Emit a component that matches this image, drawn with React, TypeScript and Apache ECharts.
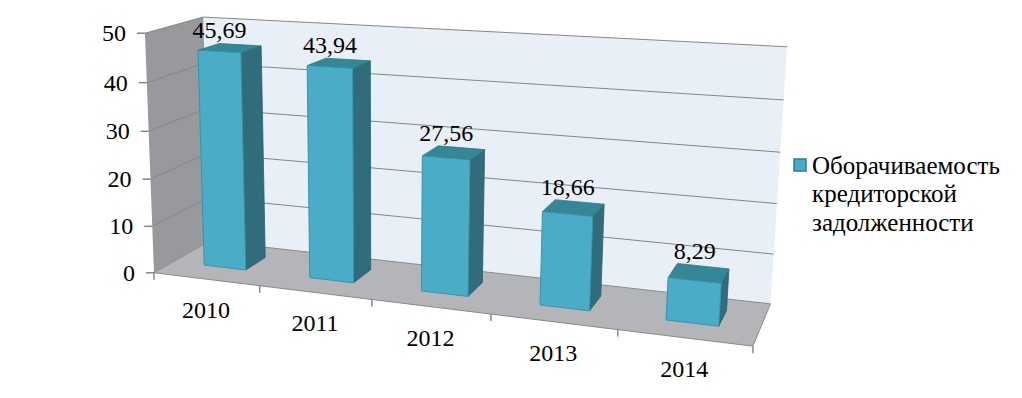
import React, { useEffect, useRef } from 'react';
import * as echarts from 'echarts';

// ---------- data ----------
const categories = ['2010', '2011', '2012', '2013', '2014'];
const values = [45.69, 43.94, 27.56, 18.66, 8.29];
const yTicks = [0, 10, 20, 30, 40, 50];
const seriesName = 'Оборачиваемость кредиторской задолженности';
const legendLines = ['Оборачиваемость', 'кредиторской', 'задолженности'];

// ---------- layout: perspective anchors (X: category units, Y: fraction of axis, Z: depth) -> screen ----------
const anchors: number[][] = [
  [0, 0, 0, 157, 270], [5, 0, 0, 753, 346], [0, 1, 0, 142, 34], [0, 0, 1, 205, 244],
  [0, 1, 1, 207, 18], [5, 0, 1, 771, 301], [5, 1, 1, 787, 48],
  [1, 0, 0, 261, 287], [2, 0, 0, 373, 301], [3, 0, 0, 490, 316], [4, 0, 0, 616, 333],
  [0, 0.2, 0, 154, 224], [0, 0.4, 0, 151, 178], [0, 0.6, 0, 148, 130], [0, 0.8, 0, 145, 82],
  [5, 0.2, 1, 774, 252], [5, 0.4, 1, 777, 203], [5, 0.6, 1, 780, 152], [5, 0.8, 1, 784, 100],
];
const NCAT = 5;
const BAR_HALF = 0.2;
const Z_FRONT = 0.34;
const Z_BACK = 0.72;
const FONT_FAMILY = 'Liberation Serif';
const font = (size: number) => `${size}px "Liberation Serif", "Times New Roman", serif`;

function solve(A: number[][], b: number[]): number[] {
  const n = b.length;
  const M = A.map((r, i) => [...r, b[i]]);
  for (let c = 0; c < n; c++) {
    let p = c;
    for (let r = c + 1; r < n; r++) if (Math.abs(M[r][c]) > Math.abs(M[p][c])) p = r;
    const tmp = M[c]; M[c] = M[p]; M[p] = tmp;
    for (let r = 0; r < n; r++) {
      if (r === c) continue;
      const f = M[r][c] / M[c][c];
      for (let k = c; k <= n; k++) M[r][k] -= f * M[c][k];
    }
  }
  return M.map((r, i) => r[n] / r[i]);
}

const S = 1000;
const PROJ: number[] = (() => {
  const rows: number[][] = [];
  const rhs: number[] = [];
  for (const [X, Y, Z, u0, v0] of anchors) {
    const u = u0 / S, v = v0 / S;
    rows.push([X, Y, Z, 1, 0, 0, 0, 0, -u * X, -u * Y, -u * Z]); rhs.push(u);
    rows.push([0, 0, 0, 0, X, Y, Z, 1, -v * X, -v * Y, -v * Z]); rhs.push(v);
  }
  const n = 11;
  const AtA: number[][] = Array.from({ length: n }, () => new Array(n).fill(0));
  const Atb: number[] = new Array(n).fill(0);
  rows.forEach((r, k) => {
    for (let i = 0; i < n; i++) {
      Atb[i] += r[i] * rhs[k];
      for (let j = 0; j < n; j++) AtA[i][j] += r[i] * r[j];
    }
  });
  return solve(AtA, Atb);
})();

function project(X: number, Y: number, Z: number): number[] {
  const p = PROJ;
  const w = p[8] * X + p[9] * Y + p[10] * Z + 1;
  return [((p[0] * X + p[1] * Y + p[2] * Z + p[3]) / w) * S, ((p[4] * X + p[5] * Y + p[6] * Z + p[7]) / w) * S];
}

function norm(params: any, api: any, cat: number, val: number) {
  const cs = params.coordSys;
  const pt = api.coord([cat, val]);
  const band = api.size([1, 0])[0];
  return { xc: (pt[0] - cs.x) / band, yn: (cs.y + cs.height - pt[1]) / cs.height };
}

function txt(x: number, y: number, text: string, size: number, align: string) {
  return {
    type: 'text', x, y,
    style: { text, font: font(size), fontSize: size, fontFamily: FONT_FAMILY, fill: '#000', align, verticalAlign: 'middle' },
  };
}

export default function App() {
  const ref = useRef<HTMLDivElement>(null);
  useEffect(() => {
    if (!ref.current) return;
    const chart = echarts.init(ref.current, undefined, { renderer: 'svg' });
    const wallGraphics = [
      { type: 'polygon', z: 0, shape: { points: [project(0, 0, 1), project(NCAT, 0, 1), project(NCAT, 1, 1), project(0, 1, 1)] }, style: { fill: '#E9EFF6' } },
      { type: 'polygon', z: 0, shape: { points: [project(0, 0, 0), project(0, 0, 1), project(0, 1, 1), project(0, 1, 0)] }, style: { fill: '#97999C' } },
      { type: 'polygon', z: 0, shape: { points: [project(0, 0, 0), project(NCAT, 0, 0), project(NCAT, 0, 1), project(0, 0, 1)] }, style: { fill: '#B3B5B8', stroke: '#8A8A8A', lineWidth: 1 } },
    ];
    const legendGraphics = [
      { type: 'rect', shape: { x: 794, y: 159, width: 12, height: 12 }, style: { fill: '#4BACC6', stroke: '#2F7D92', lineWidth: 1.5 } },
      ...legendLines.map((t, i) => txt(812, 165 + i * 28.5, t, 25, 'left')),
    ];
    chart.setOption({
      animation: false,
      textStyle: { fontFamily: FONT_FAMILY },
      grid: { left: 0, top: 0, width: 500, height: 300, show: false },
      xAxis: { type: 'category', data: categories, show: false },
      yAxis: { type: 'value', min: 0, max: 50, interval: 10, show: false },
      graphic: [...wallGraphics, ...legendGraphics],
      series: [
        {
          type: 'custom', name: 'yaxis', z: 2, clip: false, silent: true,
          data: yTicks.map((t) => [0, t]),
          renderItem: (params: any, api: any) => {
            const t = api.value(1);
            const { yn } = norm(params, api, 0, t);
            const a = project(0, yn, 0), b = project(0, yn, 1), c = project(NCAT, yn, 1);
            const children: any[] = [];
            if (t > 0) children.push({ type: 'polyline', shape: { points: [a, b, c] }, style: { stroke: '#868686', lineWidth: 1, fill: 'none' } });
            children.push({ type: 'line', shape: { x1: a[0] - 8, y1: a[1], x2: a[0], y2: a[1] }, style: { stroke: '#868686', lineWidth: 1.5 } });
            children.push(txt(a[0] - 19, a[1], String(t), 24, 'right'));
            return { type: 'group', children };
          },
        },
        {
          type: 'custom', name: 'xaxis', z: 2, clip: false, silent: true,
          data: categories.map((_, i) => [i, 0]),
          renderItem: (params: any, api: any) => {
            const idx = api.value(0);
            const { xc } = norm(params, api, idx, 0);
            const children: any[] = [];
            const tickAt = (X: number) => {
              const p = project(X, 0, 0);
              children.push({ type: 'line', shape: { x1: p[0], y1: p[1], x2: p[0], y2: p[1] + 7 }, style: { stroke: '#868686', lineWidth: 1.5 } });
            };
            tickAt(xc - 0.5);
            if (idx === categories.length - 1) tickAt(xc + 0.5);
            const lp = project(xc, 0, 0);
            children.push(txt(lp[0], lp[1] + 31, categories[idx], 24, 'center'));
            return { type: 'group', children };
          },
        },
        {
          type: 'custom', name: seriesName, z: 3, clip: false,
          data: values.map((v, i) => [i, v]),
          renderItem: (params: any, api: any) => {
            const idx = api.value(0);
            const val = api.value(1);
            const { xc, yn } = norm(params, api, idx, val);
            const x0 = xc - BAR_HALF, x1 = xc + BAR_HALF;
            const P = (x: number, y: number, z: number) => project(x, y, z);
            const side = [P(x1, 0, Z_FRONT), P(x1, 0, Z_BACK), P(x1, yn, Z_BACK), P(x1, yn, Z_FRONT)];
            const top = [P(x0, yn, Z_FRONT), P(x1, yn, Z_FRONT), P(x1, yn, Z_BACK), P(x0, yn, Z_BACK)];
            const front = [P(x0, 0, Z_FRONT), P(x1, 0, Z_FRONT), P(x1, yn, Z_FRONT), P(x0, yn, Z_FRONT)];
            const lx = (front[2][0] + front[3][0]) / 2;
            const ly = (top[2][1] + top[3][1]) / 2 - 15;
            return {
              type: 'group',
              children: [
                { type: 'polygon', shape: { points: side }, style: { fill: '#316C7B', stroke: '#2B6170', lineWidth: 0.8 } },
                { type: 'polygon', shape: { points: top }, style: { fill: '#358696', stroke: '#2F7A8A', lineWidth: 0.8 } },
                { type: 'polygon', shape: { points: front }, style: { fill: '#4AACC6', stroke: '#3A93AA', lineWidth: 1 } },
                txt(lx, ly, val.toFixed(2).replace('.', ','), 24, 'center'),
              ],
            };
          },
        },
      ],
    } as any);
    return () => chart.dispose();
  }, []);
  return <div ref={ref} style={{ position: 'fixed', left: 0, top: 0, width: 1022, height: 398, background: '#fff' }} />;
}
